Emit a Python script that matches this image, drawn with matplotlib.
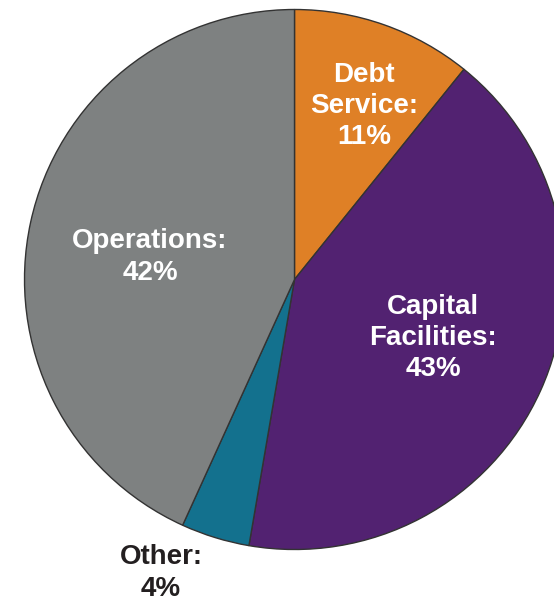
import matplotlib.pyplot as plt

# budget shares, clockwise from 12 o'clock (wedge sizes as drawn, labels as printed)
labels = ["Debt\nService:\n11%", "Capital\nFacilities:\n43%", "Other:\n4%", "Operations:\n42%"]
shares = [10.8, 41.9, 4.1, 43.2]
colors = ["#DF8026", "#522271", "#13718E", "#7E8181"]

W, H = 554, 605
fig = plt.figure(figsize=(W / 100, H / 100), dpi=100)
ax = fig.add_axes([0, 0, 1, 1])

cx, cy, r = 294.5, H - 279.5, 270
ax.pie(shares, colors=colors, startangle=90, counterclock=False,
       center=(cx, cy), radius=r, frame=True,
       wedgeprops=dict(edgecolor="#333333", linewidth=1.0))
ax.set_xlim(0, W)
ax.set_ylim(0, H)
ax.set_aspect('equal')
ax.axis('off')

font = dict(family=["Liberation Sans", "DejaVu Sans"], weight="bold", fontsize=20,
            ha="center", va="center", linespacing=1.25)
ax.text(364, H - 106, labels[0], color="white", **font)
ax.text(433, H - 338, labels[1], color="white", **font)
ax.text(161, H - 573, labels[2], color="#231f20", **font)
ax.text(150, H - 257, labels[3], color="white", **font)

fig.savefig("out.png", dpi=100)
